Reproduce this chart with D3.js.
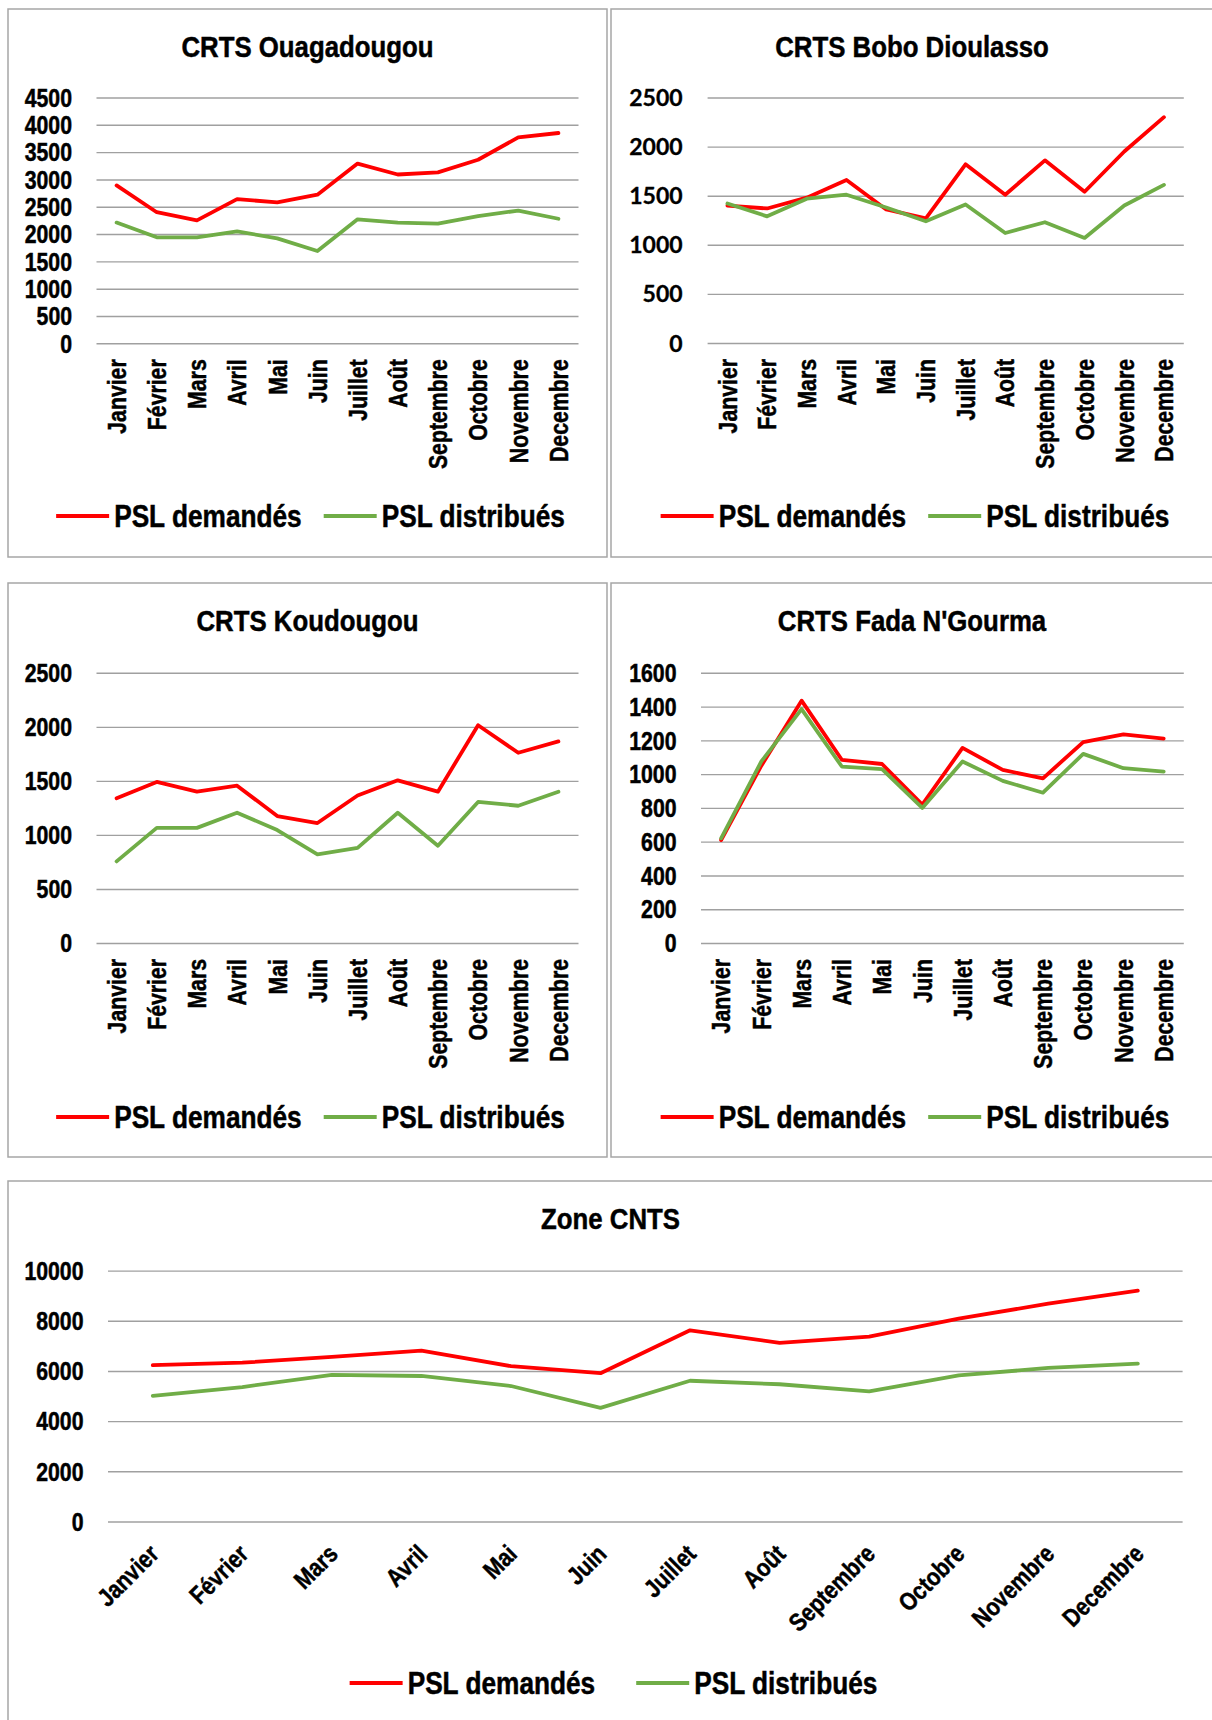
<!DOCTYPE html>
<html>
<head>
<meta charset="utf-8">
<script src="https://cdn.jsdelivr.net/npm/d3@7"></script>
<style>
body { margin: 0; background: #fff; }
svg text {
    font-family: "Liberation Sans", Arial, sans-serif;
    font-weight: bold;
    fill: #000;
    stroke: #000;
    stroke-width: 0.5px;
}
</style>
</head>
<body>
<svg id="chart"></svg>
<script>
let months = ['Janvier', 'Février', 'Mars', 'Avril', 'Mai', 'Juin', 'Juillet', 'Août', 'Septembre', 'Octobre', 'Novembre', 'Decembre']
let seriesNames = ['PSL demandés', 'PSL distribués']

let ouagaDemandes  = [2890, 2400, 2250, 2640, 2580, 2720, 3290, 3090, 3130, 3360, 3770, 3850]
let ouagaDistribues = [2210, 1940, 1940, 2050, 1920, 1690, 2270, 2210, 2190, 2330, 2430, 2280]
let ouagaTicks = [0, 500, 1000, 1500, 2000, 2500, 3000, 3500, 4000, 4500]

let boboDemandes  = [1400, 1370, 1480, 1660, 1360, 1270, 1820, 1510, 1860, 1540, 1950, 2300]
let boboDistribues = [1420, 1290, 1470, 1510, 1380, 1240, 1410, 1120, 1230, 1070, 1400, 1610]
let boboTicks = [0, 500, 1000, 1500, 2000, 2500]

let koudDemandes  = [1340, 1490, 1400, 1455, 1175, 1110, 1365, 1505, 1400, 2015, 1760, 1865]
let koudDistribues = [755, 1065, 1065, 1205, 1045, 820, 880, 1205, 900, 1305, 1270, 1400]
let koudTicks = [0, 500, 1000, 1500, 2000, 2500]

let fadaDemandes  = [610, 1050, 1435, 1085, 1060, 820, 1155, 1025, 975, 1190, 1235, 1210]
let fadaDistribues = [620, 1075, 1385, 1045, 1030, 800, 1075, 960, 890, 1120, 1035, 1015]
let fadaTicks = [0, 200, 400, 600, 800, 1000, 1200, 1400, 1600]

let zoneDemandes  = [6230, 6330, 6560, 6810, 6190, 5910, 7620, 7120, 7370, 8090, 8680, 9200]
let zoneDistribues = [5010, 5360, 5840, 5800, 5400, 4530, 5610, 5470, 5190, 5820, 6120, 6290]
let zoneTicks = [0, 2000, 4000, 6000, 8000, 10000]

let colors = ['#ff0000', '#70ad47']

let width = 1212
let height = 1720

let svg = d3.select('#chart')
    .attr('width', width)
    .attr('height', height)

// box = panel frame, plot = grid area [left, top, right, zero line]
let panels = [
    { title: 'CRTS Ouagadougou', data: [ouagaDemandes, ouagaDistribues], ticks: ouagaTicks,
      box: [8, 9, 599, 548], plot: [96.5, 97.5, 578.5, 343.3], legendY: 516, legendGap: 22, rotate: 90 },
    { title: 'CRTS Bobo Dioulasso', data: [boboDemandes, boboDistribues], ticks: boboTicks,
      box: [611, 9, 602, 548], plot: [707.6, 97.5, 1183.8, 343], legendY: 516, legendGap: 22, rotate: 90, wideTicks: true },
    { title: 'CRTS Koudougou', data: [koudDemandes, koudDistribues], ticks: koudTicks,
      box: [8, 583, 599, 574], plot: [96.5, 672.8, 578.5, 943], legendY: 1117, legendGap: 22, rotate: 90 },
    { title: "CRTS Fada N'Gourma", data: [fadaDemandes, fadaDistribues], ticks: fadaTicks,
      box: [611, 583, 602, 574], plot: [701, 672.8, 1183.8, 943], legendY: 1117, legendGap: 22, rotate: 90 },
    { title: 'Zone CNTS', data: [zoneDemandes, zoneDistribues], ticks: zoneTicks,
      box: [8, 1181, 1205, 560], plot: [108, 1270.6, 1182.6, 1521.5], legendY: 1683, legendGap: 41, rotate: 45 }
]

// the chart uses a narrow bold face; squeeze Liberation Sans to get it
let NARROW = 0.85

let drawPanel = (p) => {
    let g = svg.append('g')
    let [bx, by, bw, bh] = p.box
    let [x0, yTop, x1, y0] = p.plot

    g.append('rect')
        .attr('x', bx).attr('y', by)
        .attr('width', bw).attr('height', bh)
        .attr('fill', '#fff')
        .attr('stroke', '#a6a6a6')
        .attr('stroke-width', 1.5)

    g.append('text')
        .attr('text-anchor', 'middle')
        .attr('transform', 'translate(' + (bx + bw / 2) + ',' + (by + 48) + ') scale(0.86,1)')
        .style('font-size', '30px')
        .text(p.title)

    let yScale = d3.scaleLinear()
        .domain([0, d3.max(p.ticks)])
        .range([y0, yTop])

    let xScale = d3.scalePoint()
        .domain(months)
        .range([x0, x1])
        .padding(0.5)

    // gridlines + y labels
    let yAxis = d3.axisLeft(yScale)
        .tickValues(p.ticks)
        .tickSize(-(x1 - x0))
        .tickFormat(d3.format('d'))

    let yg = g.append('g')
        .attr('transform', 'translate(' + x0 + ',0)')
        .call(yAxis)
    yg.select('.domain').remove()
    yg.selectAll('line')
        .attr('stroke', '#a0a0a0')
        .attr('stroke-width', 1.4)
    let yText = yg.selectAll('text')
        .attr('x', 0)
        .attr('dy', '0.35em')
        .attr('fill', '#000')
    if (p.wideTicks) {
        yText.style('font-family', 'Lato, "Open Sans", sans-serif')
            .style('font-size', '23px')
            .style('stroke-width', '0.3px')
            .attr('transform', 'translate(-25,0)')
    } else {
        yText.style('font-size', '25px')
            .attr('transform', 'translate(-24.5,0) scale(' + NARROW + ',1)')
    }

    // month labels
    let xAxis = d3.axisBottom(xScale).tickSize(0)
    let xg = g.append('g')
        .attr('transform', 'translate(0,' + y0 + ')')
        .call(xAxis)
    xg.select('.domain').remove()
    let labels = xg.selectAll('text')
        .style('font-size', '25px')
        .attr('fill', '#000')
        .attr('text-anchor', 'end')
        .attr('x', 0)
        .attr('y', 0)
    if (p.rotate === 90) {
        labels.attr('dy', '0.35em')
            .attr('transform', 'rotate(-90) translate(-16,0) scale(' + NARROW + ',1)')
    } else {
        labels.attr('dy', 0)
            .attr('transform', 'translate(7,34) rotate(-45) scale(' + NARROW + ',1)')
    }

    // series
    let line = d3.line()
        .x((d, i) => xScale(months[i]))
        .y((d) => yScale(d))

    p.data.forEach((values, i) => {
        g.append('path')
            .datum(values)
            .attr('d', line)
            .attr('fill', 'none')
            .attr('stroke', colors[i])
            .attr('stroke-width', 3.8)
            .attr('stroke-linejoin', 'round')
            .attr('stroke-linecap', 'round')
    })

    // legend
    let leg = g.append('g')
    let x = 0
    seriesNames.forEach((name, i) => {
        leg.append('line')
            .attr('x1', x).attr('x2', x + 53)
            .attr('y1', 0).attr('y2', 0)
            .attr('stroke', colors[i])
            .attr('stroke-width', 3.8)
        x += 58
        let t = leg.append('text')
            .attr('dy', '0.35em')
            .attr('transform', 'translate(' + x + ',0) scale(0.82,1)')
            .style('font-size', '32px')
            .text(name)
        x += t.node().getComputedTextLength() * 0.82 + p.legendGap
    })
    x -= p.legendGap
    leg.attr('transform', 'translate(' + (bx + bw / 2 + 3 - x / 2) + ',' + p.legendY + ')')
}

panels.forEach(drawPanel)
</script>
</body>
</html>
